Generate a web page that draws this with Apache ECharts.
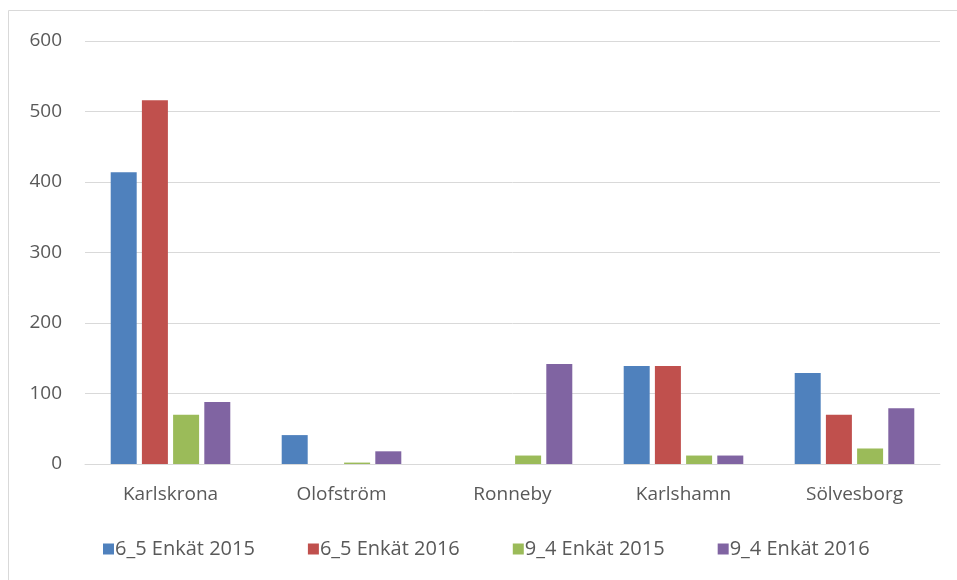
<!DOCTYPE html>
<html>
<head>
<meta charset="utf-8">
<script src="https://cdn.jsdelivr.net/npm/echarts@6/dist/echarts.min.js"></script>
<style>
    html, body { margin: 0; padding: 0; background: #fff; }
    #chart { width: 957px; height: 580px; }
</style>
</head>
<body>
<div id="chart"></div>
<script>
const categories = ['Karlskrona', 'Olofström', 'Ronneby', 'Karlshamn', 'Sölvesborg'];
const enkat65_2015 = [414, 41, 0, 139, 129];
const enkat65_2016 = [516, 0, 0, 139, 70];
const enkat94_2015 = [70, 2, 12, 12, 22];
const enkat94_2016 = [88, 18, 142, 12, 79];
const seriesNames = ['6_5 Enkät 2015', '6_5 Enkät 2016', '9_4 Enkät 2015', '9_4 Enkät 2016'];
const colors = ['#4F81BD', '#C0504D', '#9BBB59', '#8064A2'];

const font = '"Open Sans", "Noto Sans", sans-serif';
const chart = echarts.init(document.getElementById('chart'));

const values = [enkat65_2015, enkat65_2016, enkat94_2015, enkat94_2016];
const series = values.map((data, i) => ({
    name: seriesNames[i],
    type: 'bar',
    data: data,
    barWidth: 26,
    barGap: '20%',
    itemStyle: { color: colors[i] }
}));

chart.setOption({
    animation: false,
    color: colors,
    textStyle: { fontFamily: font },
    graphic: [{
        type: 'rect',
        shape: { x: 8.5, y: 10.5, width: 960, height: 580 },
        style: { fill: 'none', stroke: '#d9d9d9', lineWidth: 1 }
    }],
    grid: { left: 85, right: 17, top: 41, bottom: 116 },
    legend: {
        bottom: 16,
        left: 98,
        itemWidth: 11,
        itemHeight: 11,
        itemGap: 53,
        icon: 'rect',
        textStyle: { color: '#595959', fontSize: 20, fontFamily: font, padding: [0, 0, 0, -4] },
        data: seriesNames
    },
    xAxis: {
        type: 'category',
        data: categories,
        axisLine: { lineStyle: { color: '#d9d9d9', width: 1 } },
        axisTick: { show: false },
        axisLabel: { color: '#595959', fontSize: 19, margin: 21, fontFamily: font }
    },
    yAxis: {
        type: 'value',
        min: 0,
        max: 600,
        interval: 100,
        axisLine: { show: false },
        axisTick: { show: false },
        splitLine: { lineStyle: { color: '#d9d9d9', width: 1 } },
        axisLabel: { color: '#595959', fontSize: 19, margin: 23, fontFamily: font }
    },
    series: series
});
</script>
</body>
</html>
